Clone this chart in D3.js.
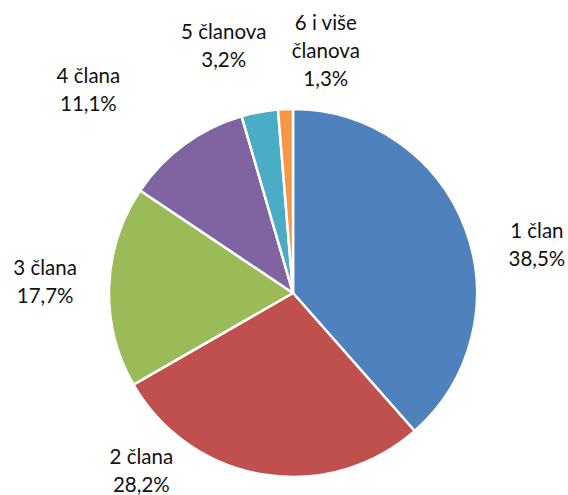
<!DOCTYPE html>
<html>
<head>
<meta charset="utf-8">
<script src="https://cdn.jsdelivr.net/npm/d3@7"></script>
<style>
    body { margin: 0; background: #fff; }
    svg text { font-family: Lato, "Open Sans", sans-serif; font-size: 20.5px; fill: #111; }
</style>
</head>
<body>
<main></main>
<script>
const categories = ["1 član", "2 člana", "3 člana", "4 člana", "5 članova", "6 i više članova"];
const labelLines = [["1 član"], ["2 člana"], ["3 člana"], ["4 člana"], ["5 članova"], ["6 i više", "članova"]];
const shares = [38.5, 28.2, 17.7, 11.1, 3.2, 1.3];
const percentLabels = ["38,5%", "28,2%", "17,7%", "11,1%", "3,2%", "1,3%"];
const colors = ["#4F81BD", "#C0504D", "#9BBB59", "#8064A2", "#4BACC6", "#F79646"];

const svgSize = { width: 568, height: 495 };
const center = { x: 293, y: 293 };
const radius = 184;
const labelRadius = 250;
const lineHeight = 28;
// Excel "best fit" moves some labels off the slice's middle angle
const labelNudge = [[10, 40], [-111, -69], [2, -2], [-57, -1], [-24, -1], [43, 8]];

const svg = d3.select("main")
    .append("svg")
    .attr("width", svgSize.width)
    .attr("height", svgSize.height);

const pie = d3.pie().sort(null).value(d => d);
const arcs = pie(shares);

const arc = d3.arc().innerRadius(0).outerRadius(radius);
const labelArc = d3.arc().innerRadius(labelRadius).outerRadius(labelRadius);

const g = svg.append("g")
    .attr("transform", `translate(${center.x}, ${center.y})`);

g.selectAll("path")
    .data(arcs)
    .enter()
    .append("path")
    .attr("d", arc)
    .attr("fill", (d, i) => colors[i])
    .attr("stroke", "#fff")
    .attr("stroke-width", 2.5)
    .attr("stroke-linejoin", "round");

const labels = g.selectAll("text")
    .data(arcs)
    .enter()
    .append("text")
    .attr("text-anchor", "middle")
    .attr("transform", (d, i) => {
        const [x, y] = labelArc.centroid(d);
        return `translate(${x + labelNudge[i][0]}, ${y + labelNudge[i][1]})`;
    });

labels.each(function (d, i) {
    const lines = labelLines[i].concat([percentLabels[i]]);
    const first = -(lines.length - 1) * lineHeight / 2 + 7;
    d3.select(this).selectAll("tspan")
        .data(lines)
        .enter()
        .append("tspan")
        .attr("x", 0)
        .attr("y", (t, k) => first + k * lineHeight)
        .text(t => t);
});
</script>
</body>
</html>
